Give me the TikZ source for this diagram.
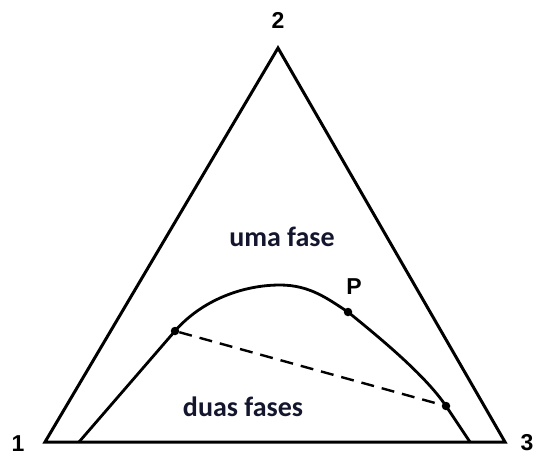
\documentclass[tikz,border=0pt]{standalone}
\usepackage{fontspec}
\setmainfont{Liberation Sans}
\newfontfamily\bodyfont{Carlito}
\definecolor{ink}{RGB}{20,22,45}
\begin{document}
\begin{tikzpicture}[x=1pt,y=-1pt,
  edge/.style={line width=3pt,line join=miter},
  curve/.style={line width=2.8pt},
  tie/.style={line width=2.4pt,dash pattern=on 13pt off 8pt},
  dot/.style={circle,fill=black,inner sep=0pt,minimum size=8.5pt},
  vlabel/.style={font=\fontsize{23}{27}\selectfont\bfseries,inner sep=0pt},
  region/.style={font=\bodyfont\fontsize{28}{32}\selectfont\bfseries,text=ink,inner sep=0pt}]
\useasboundingbox (0,0) rectangle (538,456);
\coordinate (v1) at (45,442);
\coordinate (v2) at (278,48);
\coordinate (v3) at (505,442);
\draw[edge] (v1) -- (v2) -- (v3) -- cycle;
\coordinate (c0) at (79,442);
\coordinate (top) at (280,285);
\coordinate (c5) at (470,442);
\node[dot] (a) at (175,331) {};
\node[dot] (p) at (348,312) {};
\node[dot] (b) at (446,406) {};
\draw[curve] (c0) -- (a.center)
  .. controls (202,300) and (243,285) .. (top)
  .. controls (310,285) and (328,299) .. (p.center)
  .. controls (380,338) and (425,375) .. (b.center)
  -- (c5);
\draw[tie] (a) -- (b);
\node[vlabel] (l1) at (18,444) {1};
\node[vlabel] (l2) at (278,20) {2};
\node[vlabel] (l3) at (527,443) {3};
\node[vlabel] (lp) at (354,287) {P};
\node[region] (uma) at (282,237) {uma fase};
\node[region] (duas) at (243,407) {duas fases};
\end{tikzpicture}
\end{document}
